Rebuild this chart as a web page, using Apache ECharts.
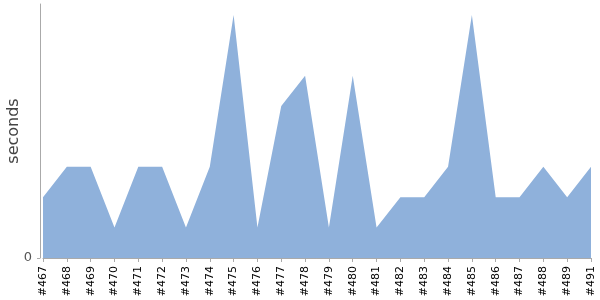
<!DOCTYPE html>
<html><head><meta charset="utf-8">
<script src="https://cdn.jsdelivr.net/npm/echarts@6/dist/echarts.min.js"></script>
<style>html,body{margin:0;padding:0;background:#fff}#c{width:600px;height:300px}</style>
</head><body><div id="c"></div>
<script>
const categories = ['#467','#468','#469','#470','#471','#472','#473','#474','#475','#476','#477','#478','#479','#480','#481','#482','#483','#484','#485','#486','#487','#488','#489','#491'];
const seconds = [2,3,3,1,3,3,1,3,8,1,5,6,1,6,1,2,2,3,8,2,2,3,2,3];
const yTicks = [0];

const chart = echarts.init(document.getElementById('c'), null, {renderer:'canvas'});
chart.setOption({
  animation:false,
  grid:{left:43, right:9, top:4, bottom:42, containLabel:false, outerBoundsMode:'none'},
  xAxis:{type:'category', data:categories, boundaryGap:false, offset:4,
    axisLine:{lineStyle:{color:'#aaa'}},
    axisTick:{alignWithLabel:true, length:4, lineStyle:{color:'#aaa'}},
    axisLabel:{rotate:90, fontSize:11, color:'#000', fontFamily:'DejaVu Sans', margin:4, interval:0}},
  yAxis:{type:'value', min:0, max:8.36, offset:3,
    name:'seconds', nameLocation:'middle', nameRotate:90, nameGap:18, nameMoveOverlap:false,
    nameTextStyle:{fontSize:16, color:'#444', fontFamily:'DejaVu Sans'},
    axisLine:{show:true, lineStyle:{color:'#aaa'}},
    axisTick:{show:true, length:3, customValues:yTicks, lineStyle:{color:'#aaa'}},
    splitLine:{show:false},
    axisLabel:{fontSize:13, color:'#555', fontFamily:'DejaVu Sans', margin:8, customValues:yTicks}},
  series:[{type:'line', data:seconds, symbol:'none',
    lineStyle:{width:0}, areaStyle:{color:'#8fb1db', opacity:1}}]
});
</script></body></html>
